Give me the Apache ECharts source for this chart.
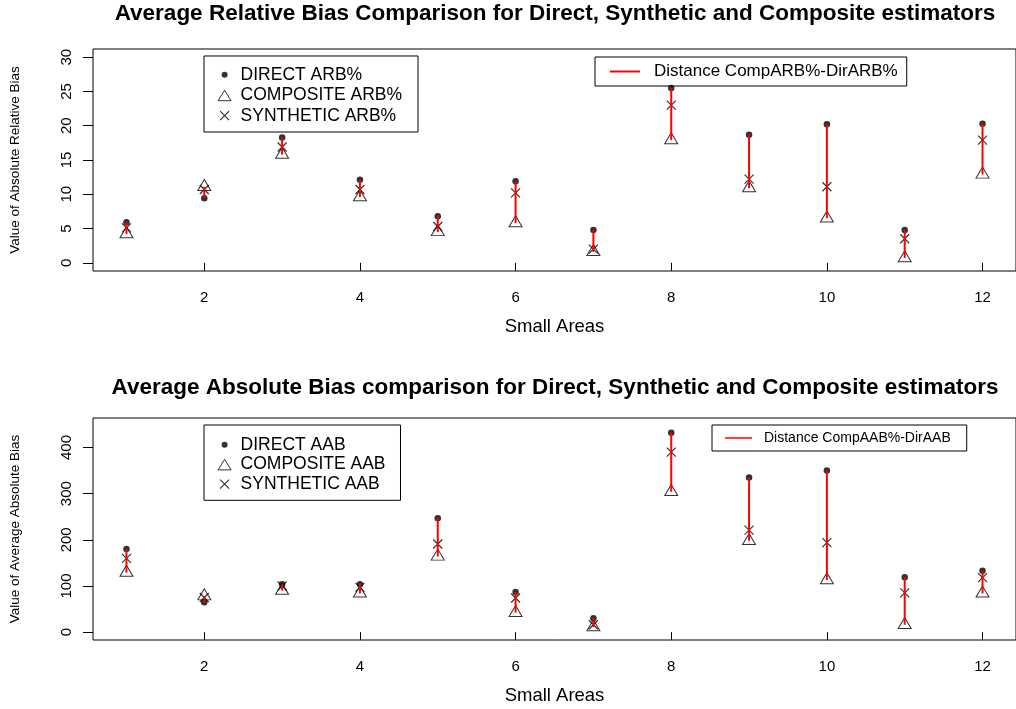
<!DOCTYPE html>
<html><head><meta charset="utf-8">
<script src="https://cdn.jsdelivr.net/npm/echarts@6/dist/echarts.min.js"></script>
<style>html,body{margin:0;padding:0;background:#fff}#c{width:1016px;height:709px}</style>
</head><body><div id="c"></div>
<script>
const areas = [1,2,3,4,5,6,7,8,9,10,11,12];
const directARB    = [5.9, 9.4, 18.3, 12.1, 6.8, 11.9, 4.8, 25.5, 18.7, 20.2, 4.8, 20.3];
const compositeARB = [4.2, 11.1, 15.8, 9.6, 4.5, 5.8, 1.6, 17.9, 10.9, 6.5, 0.7, 12.9];
const syntheticARB = [5.1, 10.7, 16.9, 10.7, 5.3, 10.2, 2.0, 23.0, 12.2, 11.1, 3.5, 17.9];
const directAAB    = [180, 65, 104, 104, 247, 87, 30, 432, 335, 350, 119, 133];
const compositeAAB = [129, 78, 90, 84, 164, 42, 11, 304, 198, 113, 16, 84];
const syntheticAAB = [160, 75, 100, 97, 191, 74, 16, 390, 221, 194, 85, 118];
const xTicks = [2,4,6,8,10,12];
const yTicksARB = [0,5,10,15,20,25,30];
const yTicksAAB = [0,100,200,300,400];

const FONT = '"Liberation Sans", Arial, sans-serif';
const ICON_DOT = 'path://M0,0M22,13M8,6.5a3,3 0 1,0 6,0a3,3 0 1,0 -6,0Z';
const ICON_TRI = 'path://M0,0M22,13M4.5,12L11,1.5L17.5,12Z';
const ICON_X = 'path://M0,0M22,13M6.5,2L15.5,11M15.5,2L6.5,11';
const ICON_LINE_T = 'path://M0,0M39,14M0,6L30,6L30,8L0,8Z';
const ICON_LINE_B = 'path://M0,0M34,12M0,5.25L27,5.25L27,6.75L0,6.75Z';

function pairs(vals){ return areas.map((a,i)=>[a, vals[i]]); }
function segs(d, c){ return areas.map((a,i)=>[a, d[i], c[i]]); }
function seg(params, api){
  const x = api.value(0);
  const p1 = api.coord([x, api.value(1)]);
  const p2 = api.coord([x, api.value(2)]);
  return {type:'line', shape:{x1:p1[0], y1:p1[1], x2:p2[0], y2:p2[1]}, style:{stroke:'#ff0000', lineWidth:2}};
}
function xAxisCfg(gi){
  return {type:'value', gridIndex:gi, min:0.57, max:12.43, name:'Small Areas', nameLocation:'middle', nameGap:46,
    nameTextStyle:{fontSize:18.5, color:'#000', fontFamily:FONT},
    axisLine:{show:false}, splitLine:{show:false},
    axisTick:{show:true, customValues:xTicks, length:8, lineStyle:{color:'#000', width:1}},
    axisLabel:{customValues:xTicks, margin:19, fontSize:15, color:'#000', fontFamily:FONT}};
}
function yAxisCfg(gi, name, min, max, ticks){
  return {type:'value', gridIndex:gi, min:min, max:max, name:name, nameLocation:'middle', nameGap:71,
    nameTextStyle:{fontSize:13.5, color:'#000', fontFamily:FONT},
    axisLine:{show:false}, splitLine:{show:false},
    axisTick:{show:true, customValues:ticks, length:10, lineStyle:{color:'#000', width:1}},
    axisLabel:{customValues:ticks, rotate:90, margin:19, fontSize:15, color:'#000', fontFamily:FONT}};
}
function scatterSet(gi, names, d, c, s){
  return [
    {type:'scatter', name:names[0], xAxisIndex:gi, yAxisIndex:gi, data:pairs(d), symbol:'circle', symbolSize:6.5,
      itemStyle:{color:'#000'}, z:2},
    {type:'scatter', name:names[1], xAxisIndex:gi, yAxisIndex:gi, data:pairs(c), symbol:'triangle', symbolSize:[13,11], symbolOffset:[0,-1.8],
      itemStyle:{color:'rgba(0,0,0,0)', borderColor:'#000', borderWidth:1}, z:2},
    {type:'scatter', name:names[2], xAxisIndex:gi, yAxisIndex:gi, data:pairs(s), symbol:'path://M0,0L10,10M10,0L0,10', symbolSize:9,
      itemStyle:{color:'rgba(0,0,0,0)', borderColor:'#000', borderWidth:1.2}, z:2},
    {type:'custom', name:names[3], xAxisIndex:gi, yAxisIndex:gi, data:segs(d,c), renderItem:seg, encode:{x:0, y:[1,2]},
      itemStyle:{color:'#ff0000'}, z:3}
  ];
}
const namesT = ['DIRECT ARB%','COMPOSITE ARB%','SYNTHETIC ARB%','Distance CompARB%-DirARB%'];
const namesB = ['DIRECT AAB','COMPOSITE AAB','SYNTHETIC AAB','Distance CompAAB%-DirAAB'];

function legendPts(names, left, top, padding, gap){
  return {orient:'vertical', left:left, top:top, padding:padding, itemWidth:22, itemHeight:13, itemGap:gap,
    borderColor:'#000', borderWidth:1, selectedMode:false,
    textStyle:{fontSize:17.5, lineHeight:14, color:'#000', fontFamily:FONT},
    data:[{name:names[0], icon:ICON_DOT},
          {name:names[1], icon:ICON_TRI, itemStyle:{borderWidth:1, borderColor:'#000'}},
          {name:names[2], icon:ICON_X, itemStyle:{borderWidth:1.2, borderColor:'#000'}}]};
}

const chart = echarts.init(document.getElementById('c'), null, {renderer:'canvas'});
chart.setOption({
  animation:false,
  backgroundColor:'#fff',
  title:[
    {text:'Average Relative Bias Comparison for Direct, Synthetic and Composite estimators', left:555, top:3, padding:0, textAlign:'center',
      textStyle:{fontSize:22.5, fontWeight:'bold', color:'#000', fontFamily:FONT, lineHeight:22}},
    {text:'Average Absolute Bias comparison for Direct, Synthetic and Composite estimators', left:555, top:377, padding:0, textAlign:'center',
      textStyle:{fontSize:22.5, fontWeight:'bold', color:'#000', fontFamily:FONT, lineHeight:22}}
  ],
  grid:[
    {left:93, top:49, width:927, height:222, show:true, borderColor:'#000', borderWidth:1, backgroundColor:'transparent'},
    {left:93, top:418, width:927, height:222, show:true, borderColor:'#000', borderWidth:1, backgroundColor:'transparent'}
  ],
  xAxis:[xAxisCfg(0), xAxisCfg(1)],
  yAxis:[yAxisCfg(0,'Value of Absolute Relative Bias',-1.2,31.2,yTicksARB), yAxisCfg(1,'Value of Average Absolute Bias',-17,464,yTicksAAB)],
  legend:[
    legendPts(namesT, 204, 56, [9.7,16,7.3,9], 2.5),
    {left:595, top:57, padding:[6,9,6,15], itemWidth:39, itemHeight:14, selectedMode:false, borderColor:'#000', borderWidth:1,
      textStyle:{fontSize:17, lineHeight:14, color:'#000', fontFamily:FONT}, data:[{name:namesT[3], icon:ICON_LINE_T}]},
    legendPts(namesB, 204, 425, [10.7,15,7.2,9], 1.7),
    {left:712, top:425, padding:[6,16,6,13], itemWidth:34, itemHeight:12, selectedMode:false, borderColor:'#000', borderWidth:1,
      textStyle:{fontSize:14, lineHeight:12, color:'#000', fontFamily:FONT}, data:[{name:namesB[3], icon:ICON_LINE_B}]}
  ],
  series:[].concat(scatterSet(0, namesT, directARB, compositeARB, syntheticARB), scatterSet(1, namesB, directAAB, compositeAAB, syntheticAAB))
});
</script></body></html>
